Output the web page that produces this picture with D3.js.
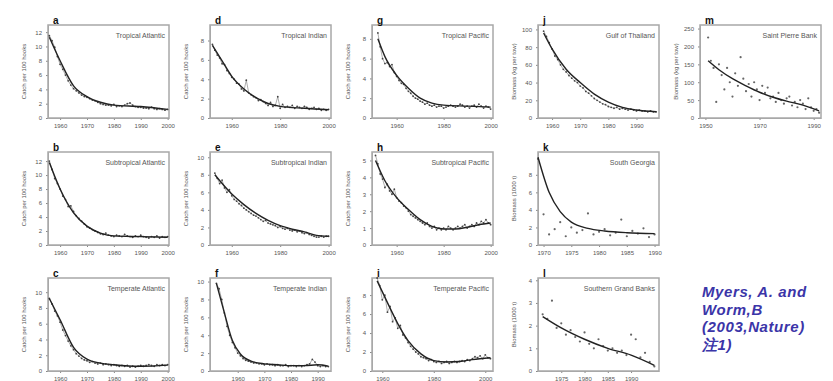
<!DOCTYPE html>
<html>
<head>
<meta charset="utf-8">
<script src="https://cdn.jsdelivr.net/npm/d3@7"></script>
<style>
  body { margin: 0; background: #fff; }
  svg { display: block; font-family: "Liberation Sans", Arial, sans-serif; }
</style>
</head>
<body>
<svg id="chart" width="833" height="381"></svg>
<script>
// panel letters, titles and axis labels (column-major like the original figure)
var letters = ["a", "b", "c", "d", "e", "f", "g", "h", "i", "j", "k", "l", "m"];
var titles = ["Tropical Atlantic", "Subtropical Atlantic", "Temperate Atlantic",
              "Tropical Indian", "Subtropical Indian", "Temperate Indian",
              "Tropical Pacific", "Subtropical Pacific", "Temperate Pacific",
              "Gulf of Thailand", "South Georgia", "Southern Grand Banks", "Saint Pierre Bank"];
var yLabels = ["Catch per 100 hooks", "Catch per 100 hooks", "Catch per 100 hooks",
               "Catch per 100 hooks", "Catch per 100 hooks", "Catch per 100 hooks",
               "Catch per 100 hooks", "Catch per 100 hooks", "Catch per 100 hooks",
               "Biomass (kg per tow)", "Biomass (1000 t)", "Biomass (1000 t)", "Biomass (kg per tow)"];

// x axis ranges and ticks
var xDomains = [[1955.5, 2000.5], [1955.5, 2000.5], [1955.5, 2000.5],
                [1951, 2001], [1951, 2001], [1949.6, 1995],
                [1949.5, 2001], [1949.5, 2001], [1956, 2003],
                [1955, 1998], [1969, 1990.8], [1970, 1996], [1948, 1992.7]];
var xTicks = [[1960, 1970, 1980, 1990, 2000], [1960, 1970, 1980, 1990, 2000], [1960, 1970, 1980, 1990, 2000],
              [1960, 1980, 2000], [1960, 1980, 2000], [1960, 1970, 1980, 1990],
              [1960, 1980, 2000], [1960, 1980, 2000], [1960, 1980, 2000],
              [1960, 1970, 1980, 1990], [1970, 1975, 1980, 1985, 1990], [1975, 1980, 1985, 1990], [1950, 1970, 1990]];

// y axis ranges and ticks
var yMax = [13, 13.3, 11.8, 9.6, 10.6, 10.4, 9.4, 5.5, 9.8, 105, 10.6, 4.1, 260];
var yTicks = [[0, 2, 4, 6, 8, 10, 12], [0, 2, 4, 6, 8, 10, 12], [0, 2, 4, 6, 8, 10],
              [0, 2, 4, 6, 8], [0, 2, 4, 6, 8, 10], [0, 2, 4, 6, 8, 10],
              [0, 2, 4, 6, 8], [0, 1, 2, 3, 4, 5], [0, 2, 4, 6, 8],
              [0, 20, 40, 60, 80, 100], [0, 2, 4, 6, 8], [0, 1, 2, 3, 4], [0, 50, 100, 150, 200, 250]];

// first year of each annual series
var firstYears = [1956, 1956, 1956, 1952, 1953, 1952, 1952, 1951, 1958, 1957, 1969, 1971, 1951];

// observed annual values
var aCatch = [11.5, 10.8, 9.9, 8.6, 7.5, 6.8, 6.0, 5.2, 4.6, 4.1, 3.8, 3.5, 3.2, 3.0, 2.9, 2.7, 2.5, 2.4, 2.2, 2.0, 1.9, 1.8, 1.8, 1.7, 1.9, 1.6, 1.7, 1.6, 1.8, 2.0, 2.1, 1.8, 1.6, 1.5, 1.5, 1.4, 1.4, 1.3, 1.5, 1.3, 1.2, 1.3, 1.2, 1.1, 1.2];
var bCatch = [12.0, 10.8, 9.5, 8.8, 8.0, 7.0, 6.5, 5.5, 5.6, 4.8, 4.2, 3.8, 3.4, 3.0, 2.6, 2.4, 2.2, 2.0, 1.8, 1.6, 1.5, 1.7, 1.4, 1.3, 1.2, 1.4, 1.3, 1.2, 1.5, 1.3, 1.2, 1.1, 1.3, 1.2, 1.4, 1.2, 1.1, 1.0, 1.2, 1.1, 1.3, 1.0, 1.2, 1.1, 1.2];
var cCatch = [9.2, 8.5, 7.6, 7.0, 6.2, 5.2, 4.5, 3.8, 3.2, 2.7, 2.2, 1.9, 1.6, 1.4, 1.3, 1.1, 1.2, 1.0, 0.9, 1.0, 0.8, 0.9, 0.8, 0.7, 0.8, 0.7, 0.6, 0.7, 0.6, 0.7, 0.5, 0.6, 0.5, 0.6, 0.7, 0.6, 0.7, 0.8, 0.7, 0.6, 0.8, 0.7, 0.8, 0.7, 0.8];
var dCatch = [7.6, 7.0, 6.5, 6.2, 5.6, 5.5, 4.9, 4.6, 4.2, 4.0, 3.6, 3.5, 3.0, 2.8, 3.9, 2.6, 2.4, 2.2, 2.1, 1.8, 1.9, 1.7, 1.5, 1.3, 1.6, 1.2, 1.3, 2.2, 1.0, 1.4, 1.1, 1.2, 1.1, 1.3, 1.0, 1.2, 1.1, 1.0, 1.2, 1.1, 0.9, 1.0, 1.1, 0.9, 1.0, 0.8, 0.9, 0.8, 0.9];
var eCatch = [8.2, 7.6, 7.0, 7.4, 6.5, 6.0, 6.3, 5.6, 5.2, 5.0, 4.7, 4.5, 4.2, 4.0, 3.8, 3.6, 3.4, 3.3, 3.1, 2.9, 2.7, 2.8, 2.5, 2.4, 2.3, 2.2, 2.0, 2.1, 1.9, 1.8, 1.9, 1.7, 1.6, 1.7, 1.5, 1.6, 1.4, 1.3, 1.4, 1.2, 1.1, 1.0, 0.9, 0.9, 1.0, 0.9, 1.0, 1.0];
var fCatch = [9.8, 9.2, 8.0, 6.5, 5.0, 4.0, 3.2, 2.6, 2.0, 1.7, 1.4, 1.2, 1.1, 1.0, 0.9, 0.9, 0.8, 0.8, 0.7, 0.8, 0.7, 0.7, 0.6, 0.7, 0.6, 0.6, 0.7, 0.5, 0.6, 0.6, 0.5, 0.6, 0.5, 0.6, 0.7, 0.8, 1.3, 1.0, 0.6, 0.5, 0.6, 0.5, 0.5];
var gCatch = [8.6, 7.2, 6.0, 5.5, 5.6, 5.2, 5.4, 4.6, 4.2, 3.8, 3.5, 3.4, 3.0, 2.7, 2.5, 2.2, 2.0, 1.9, 1.7, 1.6, 1.4, 1.5, 1.3, 1.2, 1.3, 1.1, 1.2, 1.2, 1.0, 1.1, 1.2, 1.3, 1.2, 1.1, 1.2, 1.4, 1.3, 1.1, 1.2, 1.0, 1.2, 1.3, 1.1, 1.4, 1.2, 1.0, 1.2, 1.1, 0.9];
var hCatch = [5.3, 4.8, 4.2, 3.9, 3.4, 3.6, 3.2, 3.0, 3.3, 2.8, 2.6, 2.5, 2.3, 2.2, 2.0, 1.8, 1.7, 1.6, 1.5, 1.4, 1.3, 1.2, 1.3, 1.1, 1.0, 1.1, 0.9, 1.0, 0.9, 1.0, 0.9, 1.1, 1.0, 0.9, 1.0, 1.1, 1.0, 1.1, 1.2, 1.0, 1.1, 1.2, 1.1, 1.3, 1.2, 1.4, 1.3, 1.5, 1.3, 1.2];
var iCatch = [9.8, 9.0, 7.5, 8.0, 6.2, 6.8, 5.2, 5.6, 4.5, 4.8, 3.8, 3.5, 3.0, 2.6, 2.3, 2.0, 1.8, 1.5, 1.4, 1.3, 1.1, 1.2, 1.0, 0.9, 1.0, 0.8, 0.9, 1.0, 0.8, 0.9, 1.0, 0.9, 1.0, 1.1, 1.0, 1.2, 1.1, 1.3, 1.5, 1.4, 1.6, 1.3, 1.7, 1.4, 1.3];
var jBiomass = [98, 92, 85, 78, 70, 66, 60, 55, 52, 48, 45, 42, 40, 36, 34, 30, 28, 25, 22, 20, 18, 16, 15, 13, 12, 11, 12, 10, 11, 10, 9, 10, 9, 8, 9, 8, 8, 7, 8, 7, 7];
var kBiomass = [9.8, 3.5, 1.2, 1.8, 2.6, 1.0, 2.0, 1.4, 1.7, 3.6, 1.2, 1.5, 1.8, 1.1, 1.4, 2.9, 1.0, 1.6, 1.3, 1.9, 0.9, 1.2];
var lBiomass = [2.5, 2.3, 3.1, 1.9, 2.1, 1.6, 1.8, 1.5, 1.3, 1.7, 1.2, 1.0, 1.4, 1.1, 0.9, 1.0, 0.8, 0.9, 0.7, 1.6, 1.4, 0.6, 0.8, 0.4, 0.2];
var mBiomass = [225, 160, 140, 45, 150, 120, 80, 140, 100, 60, 125, 90, 170, 110, 75, 95, 60, 100, 80, 50, 90, 70, 85, 55, 60, 45, 70, 50, 40, 55, 60, 35, 45, 30, 50, 40, 25, 55, 30, 20, 25, 15];

// smoothed trend (read at a few years)
var aFitYears = [1956, 1960, 1965, 1970, 1975, 1980, 1990, 2000], aFit = [11.3, 8.0, 4.5, 3.0, 2.2, 1.8, 1.6, 1.2];
var bFitYears = [1956, 1960, 1965, 1970, 1975, 1980, 1990, 2000], bFit = [11.8, 8.0, 4.6, 2.7, 1.7, 1.3, 1.2, 1.1];
var cFitYears = [1956, 1960, 1965, 1970, 1975, 1980, 1990, 2000], cFit = [9.2, 6.5, 3.0, 1.5, 1.0, 0.8, 0.6, 0.75];
var dFitYears = [1952, 1956, 1960, 1965, 1970, 1975, 1980, 1990, 2000], dFit = [7.5, 5.9, 4.3, 3.0, 2.1, 1.5, 1.2, 1.0, 0.85];
var eFitYears = [1953, 1960, 1965, 1970, 1975, 1980, 1985, 1990, 1995, 2000], eFit = [8.0, 5.8, 4.6, 3.6, 2.8, 2.2, 1.8, 1.5, 1.1, 1.0];
var fFitYears = [1952, 1955, 1958, 1961, 1965, 1970, 1975, 1980, 1985, 1990, 1994], fFit = [9.8, 6.5, 3.4, 1.9, 1.1, 0.8, 0.7, 0.6, 0.6, 0.7, 0.55];
var gFitYears = [1952, 1955, 1960, 1965, 1970, 1975, 1980, 1990, 2000], gFit = [8.0, 6.2, 4.3, 3.0, 2.0, 1.5, 1.3, 1.2, 1.1];
var hFitYears = [1951, 1955, 1960, 1965, 1970, 1975, 1980, 1985, 1990, 1995, 2000], hFit = [5.0, 3.8, 2.8, 2.1, 1.5, 1.1, 0.95, 0.95, 1.05, 1.2, 1.3];
var iFitYears = [1958, 1962, 1966, 1970, 1975, 1980, 1985, 1990, 1995, 2002], iFit = [9.5, 7.2, 5.0, 3.2, 1.8, 1.1, 0.95, 1.0, 1.2, 1.4];
var jFitYears = [1957, 1960, 1965, 1970, 1975, 1980, 1985, 1990, 1997], jFit = [96, 78, 55, 40, 27, 18, 12, 9, 7];
var kFitYears = [1969, 1971, 1973, 1975, 1978, 1981, 1985, 1990], kFit = [10, 6.0, 3.8, 2.6, 1.9, 1.6, 1.4, 1.3];
var lFitYears = [1971, 1975, 1980, 1985, 1990, 1995], lFit = [2.4, 1.9, 1.4, 1.0, 0.7, 0.25];
var mFitYears = [1951, 1955, 1960, 1965, 1970, 1975, 1980, 1985, 1992], mFit = [160, 135, 110, 90, 72, 58, 47, 38, 20];

var citation = ["Myers, A. and", "Worm,B", "(2003,Nature)", "注1)"];

var series = [aCatch, bCatch, cCatch, dCatch, eCatch, fCatch, gCatch, hCatch, iCatch, jBiomass, kBiomass, lBiomass, mBiomass];
var fitYears = [aFitYears, bFitYears, cFitYears, dFitYears, eFitYears, fFitYears, gFitYears, hFitYears, iFitYears, jFitYears, kFitYears, lFitYears, mFitYears];
var fits = [aFit, bFit, cFit, dFit, eFit, fFit, gFit, hFit, iFit, jFit, kFit, lFit, mFit];
var scattered = ["k", "l", "m"];

// layout
var colLeft = [48, 210, 372, 538, 700];
var rowTop = [25, 152, 278];
var pw = 121, ph = 93;
// panel -> [row, col]
var cells = [[0,0],[1,0],[2,0],[0,1],[1,1],[2,1],[0,2],[1,2],[2,2],[0,3],[1,3],[2,3],[0,4]];

var svg = d3.select("#chart");

letters.forEach(function(letter, i) {
    var g = svg.append("g")
        .attr("transform", "translate(" + colLeft[cells[i][1]] + "," + rowTop[cells[i][0]] + ")");
    var x = d3.scaleLinear().domain(xDomains[i]).range([0, pw]);
    var y = d3.scaleLinear().domain([0, yMax[i]]).range([ph, 0]);

    var xAxis = g.append("g").attr("class", "axis")
        .attr("transform", "translate(0," + ph + ")")
        .call(d3.axisBottom(x).tickValues(xTicks[i]).tickFormat(d3.format("d")).tickSize(2).tickSizeOuter(0));
    var yAxis = g.append("g").attr("class", "axis")
        .call(d3.axisLeft(y).tickValues(yTicks[i]).tickFormat(d3.format("~g")).tickSize(2).tickSizeOuter(0));
    g.selectAll(".axis path").attr("stroke", "#aaa");
    g.selectAll(".axis line").attr("stroke", "#888");
    g.selectAll(".axis text").attr("fill", "#555").style("font-size", "6px");
    xAxis.selectAll("text").attr("dy", "0.9em");
    yAxis.selectAll("text").attr("x", -6);

    g.append("rect")
        .attr("width", pw).attr("height", ph)
        .attr("fill", "none").attr("stroke", "#a8a8a8").attr("stroke-width", 1.5);

    var pts = series[i].map(function(v, k) { return [firstYears[i] + k, v]; });
    var isScatter = scattered.indexOf(letter) >= 0;

    if (!isScatter) {
        g.append("path")
            .datum(pts)
            .attr("fill", "none").attr("stroke", "#777").attr("stroke-width", 0.6)
            .attr("d", d3.line().x(function(d) { return x(d[0]); }).y(function(d) { return y(d[1]); }));
    }
    g.selectAll("circle")
        .data(pts)
        .enter()
        .append("circle")
        .attr("cx", function(d) { return x(d[0]); })
        .attr("cy", function(d) { return y(d[1]); })
        .attr("r", isScatter ? 1.1 : 0.9)
        .attr("fill", isScatter ? "#666" : "#444");

    var fitPts = fitYears[i].map(function(yr, k) { return [yr, fits[i][k]]; });
    g.append("path")
        .datum(fitPts)
        .attr("fill", "none").attr("stroke", "#222").attr("stroke-width", 1.4)
        .attr("d", d3.line().curve(d3.curveMonotoneX)
            .x(function(d) { return x(d[0]); }).y(function(d) { return y(d[1]); }));

    g.append("text")
        .attr("x", pw - 4).attr("y", 13)
        .attr("text-anchor", "end")
        .style("font-size", "7px").attr("fill", "#555")
        .text(titles[i]);

    g.append("text")
        .attr("x", 5).attr("y", -1)
        .style("font-size", "10px").style("font-weight", "900").attr("fill", "#111")
        .text(letter);

    g.append("text")
        .attr("transform", "translate(-22," + (ph / 2) + ") rotate(-90)")
        .attr("text-anchor", "middle")
        .style("font-size", "6px").attr("fill", "#555")
        .text(yLabels[i]);
});

svg.append("g")
    .selectAll("text")
    .data(citation)
    .enter()
    .append("text")
    .attr("x", 702)
    .attr("y", function(d, i) { return 297 + i * 17.5; })
    .style("font-size", "15px").style("font-style", "italic").style("font-weight", "bold")
    .style("letter-spacing", "0.6px")
    .attr("fill", "#3b35a8")
    .text(function(d) { return d; });
</script>
</body>
</html>
